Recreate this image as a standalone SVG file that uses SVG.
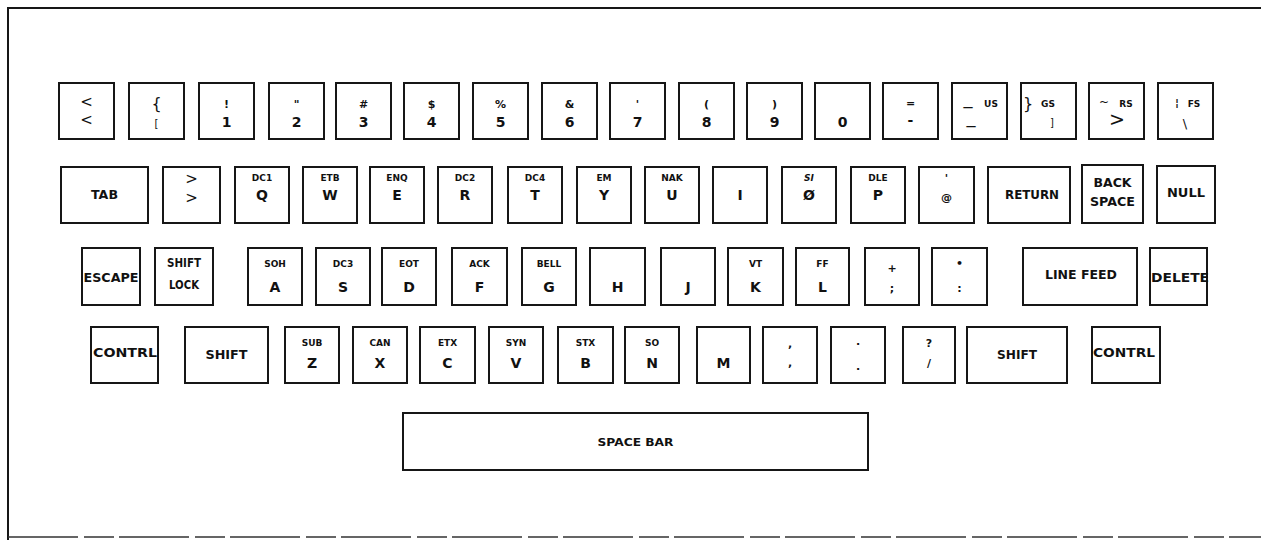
<svg xmlns="http://www.w3.org/2000/svg" width="1261" height="540" viewBox="0 0 1261 540">
<style>
rect.k{fill:#fff;stroke:#161616;stroke-width:2}
text{font-family:"DejaVu Sans","Liberation Sans",sans-serif;fill:#111;text-anchor:middle}
.s{font-size:9px;font-weight:bold}
.b{font-size:14px;font-weight:bold}
.n{font-size:12px;font-weight:bold}
.m{font-size:11px;font-weight:bold}
.t{font-weight:normal}
.frame{fill:none;stroke:#161616;stroke-width:2}
</style>
<rect width="1261" height="540" fill="#fff"/>
<path class="frame" d="M1261 8H8V540"/>
<path d="M8 537H1261" stroke="#333" stroke-width="1.5" stroke-dasharray="70 6 30 5"/>

<!-- Row 1 -->
<g id="key-lt"><rect class="k" x="59" y="83" width="55" height="56"/><text class="t" x="86.5" y="107" font-size="15">&lt;</text><text class="t" x="86.5" y="125" font-size="15">&lt;</text></g>
<g id="key-brace"><rect class="k" x="129" y="83" width="55" height="56"/><text class="t" x="156.5" y="109" font-size="16">{</text><text class="t" x="156.5" y="127" font-size="10">[</text></g>
<g id="key-1"><rect class="k" x="199" y="83" width="55" height="56"/><text class="m" x="226.5" y="108">!</text><text class="b" x="226.5" y="127">1</text></g>
<g id="key-2"><rect class="k" x="269" y="83" width="55" height="56"/><text class="m" x="296.5" y="108">"</text><text class="b" x="296.5" y="127">2</text></g>
<g id="key-3"><rect class="k" x="336" y="83" width="55" height="56"/><text class="m" x="363.5" y="108">#</text><text class="b" x="363.5" y="127">3</text></g>
<g id="key-4"><rect class="k" x="404" y="83" width="55" height="56"/><text class="m" x="431.5" y="108">$</text><text class="b" x="431.5" y="127">4</text></g>
<g id="key-5"><rect class="k" x="473" y="83" width="55" height="56"/><text class="m" x="500.5" y="108">%</text><text class="b" x="500.5" y="127">5</text></g>
<g id="key-6"><rect class="k" x="542" y="83" width="55" height="56"/><text class="m" x="569.5" y="108">&amp;</text><text class="b" x="569.5" y="127">6</text></g>
<g id="key-7"><rect class="k" x="610" y="83" width="55" height="56"/><text class="m" x="637.5" y="108">'</text><text class="b" x="637.5" y="127">7</text></g>
<g id="key-8"><rect class="k" x="679" y="83" width="55" height="56"/><text class="m" x="706.5" y="108">(</text><text class="b" x="706.5" y="127">8</text></g>
<g id="key-9"><rect class="k" x="747" y="83" width="55" height="56"/><text class="m" x="774.5" y="108">)</text><text class="b" x="774.5" y="127">9</text></g>
<g id="key-0"><rect class="k" x="815" y="83" width="55" height="56"/><text class="b" x="842.5" y="127">0</text></g>
<g id="key-minus"><rect class="k" x="883" y="83" width="55" height="56"/><text class="m" x="910.5" y="107">=</text><text class="b" x="910.5" y="125">-</text></g>
<g id="key-us"><rect class="k" x="952" y="83" width="55" height="56"/><text class="t" x="968" y="104" font-size="18">_</text><text class="s" x="991" y="107">US</text><text class="t" x="971" y="123" font-size="18">_</text></g>
<g id="key-gs"><rect class="k" x="1021" y="83" width="55" height="56"/><text class="t" x="1028" y="109" font-size="16">}</text><text class="s" x="1048" y="107">GS</text><text class="t" x="1052" y="126" font-size="10">]</text></g>
<g id="key-rs"><rect class="k" x="1089" y="83" width="55" height="56"/><text class="t" x="1104" y="106" font-size="12">~</text><text class="s" x="1126" y="107">RS</text><text class="t" x="1117" y="126" font-size="19">&gt;</text></g>
<g id="key-fs"><rect class="k" x="1158" y="83" width="55" height="56"/><text class="m" x="1177" y="106">¦</text><text class="s" x="1194" y="107">FS</text><text class="t" x="1185" y="128" font-size="13">\</text></g>

<!-- Row 2 -->
<g id="key-tab"><rect class="k" x="61" y="167" width="87" height="56"/><text class="n" x="104.5" y="199" textLength="27" lengthAdjust="spacingAndGlyphs">TAB</text></g>
<g id="key-gt"><rect class="k" x="163" y="167" width="57" height="56"/><text class="t" x="191.5" y="184" font-size="15">&gt;</text><text class="t" x="191.5" y="203" font-size="15">&gt;</text></g>
<g id="key-q"><rect class="k" x="235" y="167" width="54" height="56"/><text class="s" x="262" y="180.5">DC1</text><text class="b" x="262" y="200">Q</text></g>
<g id="key-w"><rect class="k" x="303" y="167" width="54" height="56"/><text class="s" x="330" y="180.5">ETB</text><text class="b" x="330" y="200">W</text></g>
<g id="key-e"><rect class="k" x="370" y="167" width="54" height="56"/><text class="s" x="397" y="180.5">ENQ</text><text class="b" x="397" y="200">E</text></g>
<g id="key-r"><rect class="k" x="438" y="167" width="54" height="56"/><text class="s" x="465" y="180.5">DC2</text><text class="b" x="465" y="200">R</text></g>
<g id="key-t"><rect class="k" x="508" y="167" width="54" height="56"/><text class="s" x="535" y="180.5">DC4</text><text class="b" x="535" y="200">T</text></g>
<g id="key-y"><rect class="k" x="577" y="167" width="54" height="56"/><text class="s" x="604" y="180.5">EM</text><text class="b" x="604" y="200">Y</text></g>
<g id="key-u"><rect class="k" x="645" y="167" width="54" height="56"/><text class="s" x="672" y="180.5">NAK</text><text class="b" x="672" y="200">U</text></g>
<g id="key-i"><rect class="k" x="713" y="167" width="54" height="56"/><text class="b" x="740" y="200">I</text></g>
<g id="key-o"><rect class="k" x="782" y="167" width="54" height="56"/><text class="s" x="809" y="180.5" font-style="italic">SI</text><text class="b" x="809" y="200">Ø</text></g>
<g id="key-p"><rect class="k" x="851" y="167" width="54" height="56"/><text class="s" x="878" y="180.5">DLE</text><text class="b" x="878" y="200">P</text></g>
<g id="key-at"><rect class="k" x="919" y="167" width="55" height="56"/><text class="m" x="946.5" y="182">'</text><text class="m" x="946.5" y="201">@</text></g>
<g id="key-return"><rect class="k" x="988" y="167" width="82" height="56"/><text class="n" x="1032" y="199" textLength="54" lengthAdjust="spacingAndGlyphs">RETURN</text></g>
<g id="key-backspace"><rect class="k" x="1082" y="165" width="61" height="58"/><text class="n" x="1112.5" y="187" textLength="38" lengthAdjust="spacingAndGlyphs">BACK</text><text class="n" x="1112.5" y="206" textLength="45" lengthAdjust="spacingAndGlyphs">SPACE</text></g>
<g id="key-null"><rect class="k" x="1157" y="166" width="58" height="57"/><text class="n" x="1186" y="197" textLength="38" lengthAdjust="spacingAndGlyphs">NULL</text></g>

<!-- Row 3 -->
<g id="key-escape"><rect class="k" x="82" y="248" width="58" height="57"/><text class="n" x="111" y="282" textLength="55" lengthAdjust="spacingAndGlyphs">ESCAPE</text></g>
<g id="key-shiftlock"><rect class="k" x="155" y="248" width="58" height="57"/><text class="n" x="184" y="267" textLength="34" lengthAdjust="spacingAndGlyphs">SHIFT</text><text class="n" x="184" y="289" textLength="30" lengthAdjust="spacingAndGlyphs">LOCK</text></g>
<g id="key-a"><rect class="k" x="248" y="248" width="54" height="57"/><text class="s" x="275" y="266.5">SOH</text><text class="b" x="275" y="292">A</text></g>
<g id="key-s"><rect class="k" x="316" y="248" width="54" height="57"/><text class="s" x="343" y="266.5">DC3</text><text class="b" x="343" y="292">S</text></g>
<g id="key-d"><rect class="k" x="382" y="248" width="54" height="57"/><text class="s" x="409" y="266.5">EOT</text><text class="b" x="409" y="292">D</text></g>
<g id="key-f"><rect class="k" x="452" y="248" width="55" height="57"/><text class="s" x="479.5" y="266.5">ACK</text><text class="b" x="479.5" y="292">F</text></g>
<g id="key-g"><rect class="k" x="522" y="248" width="54" height="57"/><text class="s" x="549" y="266.5">BELL</text><text class="b" x="549" y="292">G</text></g>
<g id="key-h"><rect class="k" x="590" y="248" width="55" height="57"/><text class="b" x="617.5" y="292">H</text></g>
<g id="key-j"><rect class="k" x="661" y="248" width="54" height="57"/><text class="b" x="688" y="292">J</text></g>
<g id="key-k"><rect class="k" x="728" y="248" width="55" height="57"/><text class="s" x="755.5" y="266.5">VT</text><text class="b" x="755.5" y="292">K</text></g>
<g id="key-l"><rect class="k" x="796" y="248" width="53" height="57"/><text class="s" x="822.5" y="266.5">FF</text><text class="b" x="822.5" y="292">L</text></g>
<g id="key-semicolon"><rect class="k" x="865" y="248" width="54" height="57"/><text class="m" x="892" y="272">+</text><text class="m" x="892" y="292">;</text></g>
<g id="key-colon"><rect class="k" x="932" y="248" width="55" height="57"/><text class="m" x="959.5" y="267">•</text><text class="m" x="959.5" y="292">:</text></g>
<g id="key-linefeed"><rect class="k" x="1023" y="248" width="114" height="57"/><text class="n" x="1081" y="279" textLength="72" lengthAdjust="spacingAndGlyphs">LINE FEED</text></g>
<g id="key-delete"><rect class="k" x="1150" y="248" width="57" height="57"/><text class="n" x="1180" y="282" textLength="58" lengthAdjust="spacingAndGlyphs">DELETE</text></g>

<!-- Row 4 -->
<g id="key-contrl-l"><rect class="k" x="91" y="327" width="67" height="56"/><text class="n" x="125" y="357" textLength="64" lengthAdjust="spacingAndGlyphs">CONTRL</text></g>
<g id="key-shift-l"><rect class="k" x="185" y="327" width="83" height="56"/><text class="n" x="226.5" y="359" textLength="42" lengthAdjust="spacingAndGlyphs">SHIFT</text></g>
<g id="key-z"><rect class="k" x="285" y="327" width="54" height="56"/><text class="s" x="312" y="345.5">SUB</text><text class="b" x="312" y="368">Z</text></g>
<g id="key-x"><rect class="k" x="353" y="327" width="54" height="56"/><text class="s" x="380" y="345.5">CAN</text><text class="b" x="380" y="368">X</text></g>
<g id="key-c"><rect class="k" x="420" y="327" width="55" height="56"/><text class="s" x="447.5" y="345.5">ETX</text><text class="b" x="447.5" y="368">C</text></g>
<g id="key-v"><rect class="k" x="489" y="327" width="54" height="56"/><text class="s" x="516" y="345.5">SYN</text><text class="b" x="516" y="368">V</text></g>
<g id="key-b"><rect class="k" x="558" y="327" width="55" height="56"/><text class="s" x="585.5" y="345.5">STX</text><text class="b" x="585.5" y="368">B</text></g>
<g id="key-n"><rect class="k" x="625" y="327" width="54" height="56"/><text class="s" x="652" y="345.5">SO</text><text class="b" x="652" y="368">N</text></g>
<g id="key-m"><rect class="k" x="697" y="327" width="53" height="56"/><text class="b" x="723.5" y="368">M</text></g>
<g id="key-comma"><rect class="k" x="763" y="327" width="54" height="56"/><text class="m" x="790" y="347">,</text><text class="m" x="790" y="366">,</text></g>
<g id="key-period"><rect class="k" x="831" y="327" width="54" height="56"/><text class="m" x="858" y="345">.</text><text class="m" x="858" y="370">.</text></g>
<g id="key-slash"><rect class="k" x="903" y="327" width="52" height="56"/><text class="m" x="929" y="347">?</text><text class="m" x="929" y="367">/</text></g>
<g id="key-shift-r"><rect class="k" x="967" y="327" width="100" height="56"/><text class="n" x="1017" y="359" textLength="40" lengthAdjust="spacingAndGlyphs">SHIFT</text></g>
<g id="key-contrl-r"><rect class="k" x="1092" y="327" width="68" height="56"/><text class="n" x="1124" y="357" textLength="62" lengthAdjust="spacingAndGlyphs">CONTRL</text></g>

<!-- Space bar -->
<g id="key-space"><rect class="k" x="403" y="413" width="465" height="57"/><text class="m" x="635.5" y="446" textLength="76" lengthAdjust="spacingAndGlyphs">SPACE BAR</text></g>
</svg>
